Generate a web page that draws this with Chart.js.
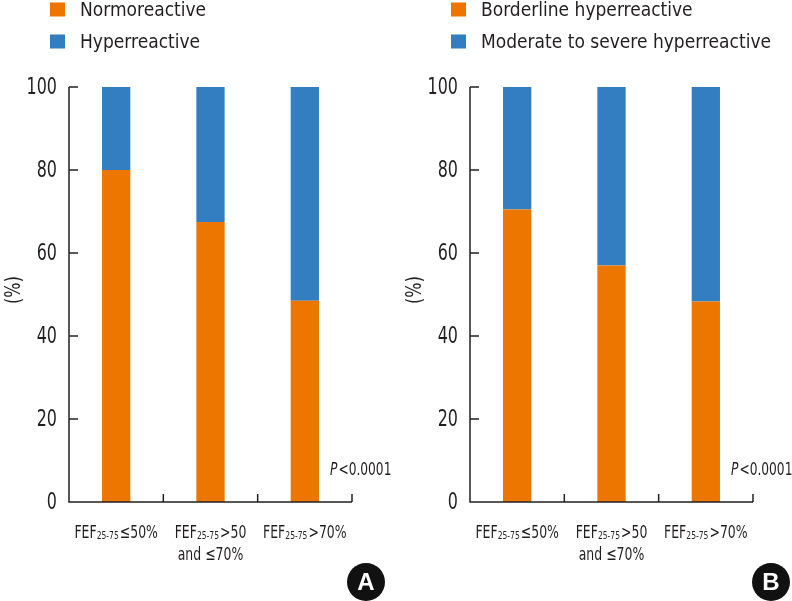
<!DOCTYPE html>
<html>
<head>
<meta charset="utf-8">
<script src="https://cdn.jsdelivr.net/npm/chart.js@4.4.0/dist/chart.umd.min.js"></script>
<style>
  html, body { margin: 0; padding: 0; background: #fff; }
  #wrap { position: relative; width: 792px; height: 601px; overflow: hidden; }
  canvas { position: absolute; top: 0; }
</style>
</head>
<body>
<div id="wrap">
  <canvas id="chartA" width="396" height="601" style="left:0"></canvas>
  <canvas id="chartB" width="391" height="601" style="left:401px"></canvas>
</div>
<script>
// Category labels (FEF with subscript 25-75)
const labelSub = ['25-75', '25-75', '25-75'];
const labelMain = ['\u226450%', '>50', '>70%'];
const labelSecond = ['', 'and \u226470%', ''];
const categories = ['FEF25-75 \u226450%', 'FEF25-75 >50 and \u226470%', 'FEF25-75 >70%'];

// Panel A
const normoreactive = [80, 67.5, 48.5];
const hyperreactive = [20, 32.5, 51.5];

// Panel B
const borderline = [70.5, 57, 48.3];
const moderateSevere = [29.5, 43, 51.7];

const yTicks = [0, 20, 40, 60, 80, 100];

const ORANGE = '#ec7600';
const BLUE = '#337dc1';
const INK = '#231f20';
const FONT = '"DejaVu Sans Condensed", "Liberation Sans Narrow", sans-serif';

Chart.defaults.font.family = FONT;
Chart.defaults.color = INK;

// the original uses a condensed face, so squeeze text horizontally
function squeezeText(ctx, text, x, y, font, sx, align) {
  ctx.save();
  ctx.font = font;
  const w = ctx.measureText(text).width * sx;
  let left = x;
  if (align === 'right') left = x - w;
  else if (align === 'center') left = x - w / 2;
  ctx.translate(left, y);
  ctx.scale(sx, 1);
  ctx.textAlign = 'left';
  ctx.fillText(text, 0, 0);
  ctx.restore();
  return w;
}

// Draws the axes, inside ticks, labels, legend, p value and panel badge
function decoPlugin(legendNames, badge) {
  return {
    id: 'deco',
    afterDraw(chart) {
      const ctx = chart.ctx;
      const area = chart.chartArea;
      const x = chart.scales.x;
      const y = chart.scales.y;
      ctx.save();

      // axis lines
      ctx.strokeStyle = INK;
      ctx.lineWidth = 1.5;
      ctx.beginPath();
      ctx.moveTo(area.left, area.top);
      ctx.lineTo(area.left, area.bottom);
      ctx.lineTo(area.right, area.bottom);
      ctx.stroke();

      // y ticks pointing inside + labels
      ctx.fillStyle = INK;
      ctx.textBaseline = 'middle';
      yTicks.forEach(v => {
        const py = y.getPixelForValue(v);
        if (v !== 0) {
          ctx.beginPath();
          ctx.moveTo(area.left, py);
          ctx.lineTo(area.left + 9, py);
          ctx.stroke();
        }
        squeezeText(ctx, String(v), area.left - 12, py + 1, '23px ' + FONT, 0.77, 'right');
      });

      // x tick marks at category boundaries, pointing up
      for (let i = 0; i < categories.length; i++) {
        let bx;
        if (i < categories.length - 1) {
          bx = (x.getPixelForValue(i) + x.getPixelForValue(i + 1)) / 2;
        } else {
          bx = area.right;
        }
        ctx.beginPath();
        ctx.moveTo(bx, area.bottom);
        ctx.lineTo(bx, area.bottom - 8);
        ctx.stroke();
      }

      // x labels with subscript
      ctx.textBaseline = 'alphabetic';
      const sq = 0.77;
      const big = '18px ' + FONT;
      const small = '11px ' + FONT;
      for (let i = 0; i < categories.length; i++) {
        const cx = x.getPixelForValue(i);
        ctx.font = big;
        const w1 = ctx.measureText('FEF').width * sq;
        const w3 = ctx.measureText(labelMain[i]).width * sq;
        ctx.font = small;
        const w2 = ctx.measureText(labelSub[i]).width * sq;
        const total = w1 + w2 + 1 + w3;
        const sx = cx - total / 2;
        const base = 538;
        squeezeText(ctx, 'FEF', sx, base, big, sq, 'left');
        squeezeText(ctx, labelSub[i], sx + w1, base + 1, small, sq, 'left');
        squeezeText(ctx, labelMain[i], sx + w1 + w2 + 1, base, big, sq, 'left');
        if (labelSecond[i]) {
          squeezeText(ctx, labelSecond[i], cx, base + 22, big, sq, 'center');
        }
      }

      // y axis title
      ctx.save();
      ctx.translate(15, 290);
      ctx.rotate(-Math.PI / 2);
      ctx.textBaseline = 'middle';
      squeezeText(ctx, '(%)', 0, 0, '21px ' + FONT, 0.85, 'center');
      ctx.restore();

      // legend
      const colors = [ORANGE, BLUE];
      const rows = [9.5, 41.5];
      ctx.textBaseline = 'middle';
      for (let k = 0; k < 2; k++) {
        ctx.fillStyle = colors[k];
        ctx.fillRect(50, rows[k] - 7, 15, 14);
        ctx.fillStyle = INK;
        squeezeText(ctx, legendNames[k], 80, rows[k] + 1, '20px ' + FONT, 0.95, 'left');
      }

      // p value
      ctx.textBaseline = 'alphabetic';
      const pw = squeezeText(ctx, 'P', 330, 475, 'italic 17px ' + FONT, 0.8, 'left');
      squeezeText(ctx, '<0.0001', 330 + pw + 1, 475, '17px ' + FONT, 0.8, 'left');

      // panel badge
      ctx.fillStyle = '#111';
      ctx.beginPath();
      ctx.arc(badge.x, 582, 19, 0, Math.PI * 2);
      ctx.fill();
      ctx.fillStyle = '#fff';
      ctx.font = 'bold 24px "Liberation Sans", "DejaVu Sans", sans-serif';
      ctx.textAlign = 'center';
      ctx.textBaseline = 'middle';
      ctx.fillText(badge.text, badge.x, 583);

      ctx.restore();
    }
  };
}

function makePanel(id, lowData, highData, legendNames, badge) {
  const canvas = document.getElementById(id);
  const ctx = canvas.getContext('2d');
  return new Chart(ctx, {
    type: 'bar',
    data: {
      labels: categories,
      datasets: [
        { label: legendNames[0], data: lowData, backgroundColor: ORANGE },
        { label: legendNames[1], data: highData, backgroundColor: BLUE }
      ]
    },
    options: {
      responsive: false,
      animation: false,
      devicePixelRatio: 1,
      categoryPercentage: 1,
      barPercentage: 0.3,
      layout: {
        padding: { top: 87, left: 0, right: canvas.width - 352, bottom: 0 }
      },
      plugins: {
        legend: { display: false },
        tooltip: { enabled: false }
      },
      scales: {
        x: {
          stacked: true,
          grid: { display: false },
          border: { display: false },
          ticks: { display: false },
          afterFit: scale => { scale.height = 99; }
        },
        y: {
          stacked: true,
          min: 0,
          max: 100,
          grid: { display: false, drawTicks: false },
          border: { display: false },
          ticks: { display: false, stepSize: 20 },
          afterFit: scale => { scale.width = 69; }
        }
      }
    },
    plugins: [decoPlugin(legendNames, badge)]
  });
}

makePanel('chartA', normoreactive, hyperreactive,
  ['Normoreactive', 'Hyperreactive'], { x: 366, text: 'A' });
makePanel('chartB', borderline, moderateSevere,
  ['Borderline hyperreactive', 'Moderate to severe hyperreactive'], { x: 370, text: 'B' });
</script>
</body>
</html>
